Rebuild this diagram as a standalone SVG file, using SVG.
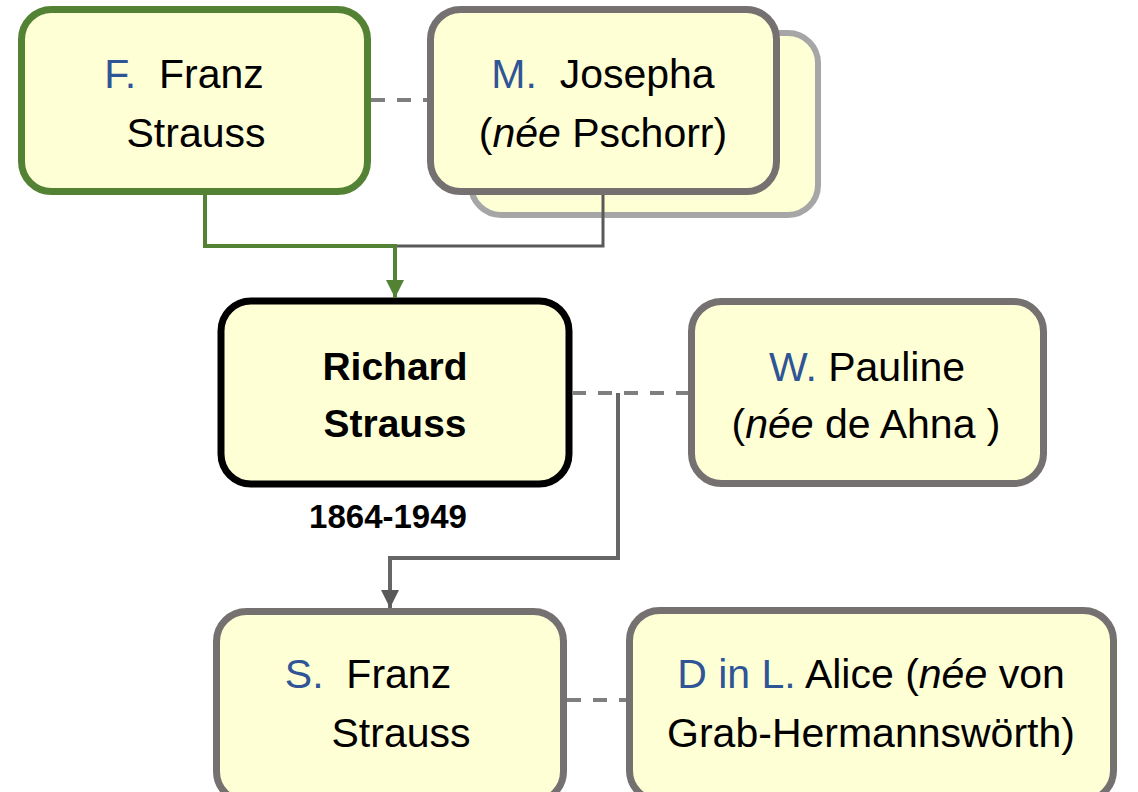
<svg xmlns="http://www.w3.org/2000/svg" width="1138" height="792" viewBox="0 0 1138 792">
<defs>
<style>
.box{fill:#ffffd5;stroke:#767171;stroke-width:7}
.t{font-family:"Liberation Sans",Arial,sans-serif;font-size:41px;fill:#000;text-anchor:middle}
.b{font-weight:bold}
.blue{fill:#2f5597}
.dash{fill:none;stroke:#7f7f7f;stroke-width:4;stroke-dasharray:14 12}
</style>
<marker id="ag" viewBox="0 0 10 10" refX="10" refY="5" markerWidth="4.5" markerHeight="4.5" orient="auto" markerUnits="strokeWidth"><path d="M0,0 L10,5 L0,10 z" fill="#548235"/></marker>
<marker id="ad" viewBox="0 0 10 10" refX="10" refY="5" markerWidth="4.5" markerHeight="4.5" orient="auto" markerUnits="strokeWidth"><path d="M0,0 L10,5 L0,10 z" fill="#595959"/></marker>
</defs>
<rect width="1138" height="792" fill="#fff"/>
<g id="father">
<rect class="box" x="21.5" y="9.5" width="346" height="182" rx="30" style="stroke:#548235"/>
<text class="t" x="184" y="88" xml:space="preserve"><tspan class="blue">F.</tspan>  Franz</text>
<text class="t" x="196" y="147">Strauss</text>
</g>
<g id="mother">
<rect class="box" x="471" y="33" width="347" height="182" rx="30" style="stroke:#a6a6a6;stroke-width:6"/>
<rect class="box" x="430.5" y="9.5" width="346" height="182" rx="30"/>
<text class="t" x="603" y="88" xml:space="preserve"><tspan class="blue">M.</tspan>  Josepha</text>
<text class="t" x="603" y="147">(<tspan font-style="italic">née</tspan> Pschorr)</text>
</g>
<g id="richard">
<rect class="box" x="221" y="301" width="348" height="183" rx="30" style="stroke:#000"/>
<text class="t b" x="395" y="380" style="font-size:39px">Richard</text>
<text class="t b" x="395" y="437" style="font-size:39px">Strauss</text>
<text class="t b" x="388" y="528" style="font-size:33px">1864-1949</text>
</g>
<g id="pauline">
<rect class="box" x="691.5" y="301.5" width="352" height="182" rx="30"/>
<text class="t" x="867" y="381"><tspan class="blue">W.</tspan> Pauline</text>
<text class="t" x="866" y="438">(<tspan font-style="italic">née</tspan> de Ahna )</text>
</g>
<g id="son">
<rect class="box" x="216.5" y="611.5" width="347" height="190" rx="30"/>
<text class="t" x="368" y="688" xml:space="preserve"><tspan class="blue">S.</tspan>  Franz</text>
<text class="t" x="401" y="747">Strauss</text>
</g>
<g id="daughter-in-law">
<rect class="box" x="629.5" y="610.5" width="484" height="190" rx="30"/>
<text class="t" x="871" y="688"><tspan class="blue">D in L.</tspan> Alice (<tspan font-style="italic">née</tspan> von</text>
<text class="t" x="871" y="747">Grab-Hermannswörth)</text>
</g>
<g id="connectors">
<line class="dash" x1="371" y1="100" x2="427" y2="100"/>
<line class="dash" x1="572" y1="393" x2="688" y2="393"/>
<line class="dash" x1="567" y1="700" x2="626" y2="700"/>
<polyline points="603,195 603,246 395,246" fill="none" stroke="#595959" stroke-width="3"/>
<polyline points="205,195 205,246 395,246 395,298" fill="none" stroke="#548235" stroke-width="4" marker-end="url(#ag)"/>
<polyline points="618,393 618,558 390,558 390,608" fill="none" stroke="#666" stroke-width="4" marker-end="url(#ad)"/>
</g>
</svg>
